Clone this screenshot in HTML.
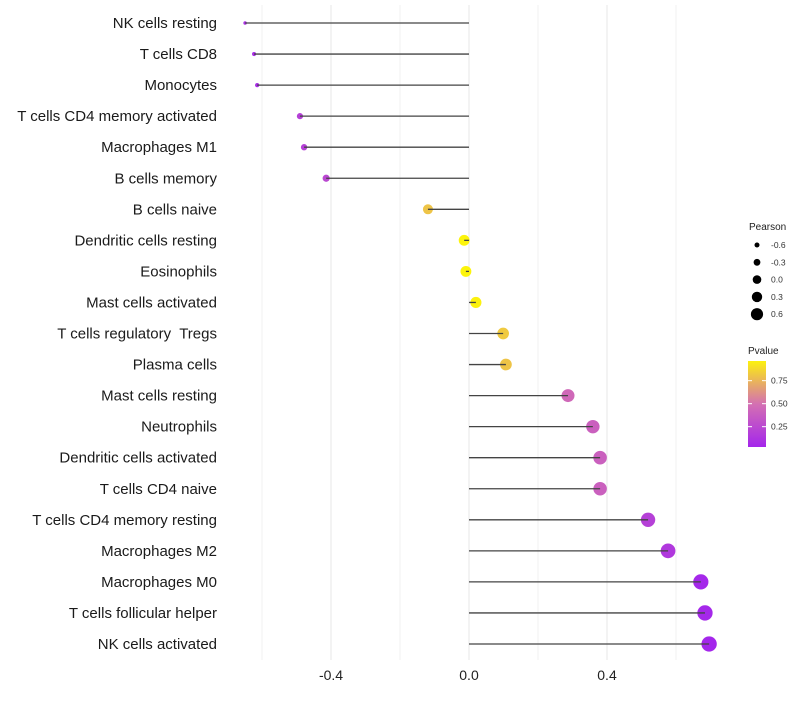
<!DOCTYPE html>
<html><head><meta charset="utf-8"><style>
body{margin:0;background:#fff;font-family:"Liberation Sans",sans-serif}
text{white-space:pre}
</style></head><body>
<svg id="c" width="800" height="700" xmlns="http://www.w3.org/2000/svg"></svg>
<script>
const categories=["NK cells resting","T cells CD8","Monocytes","T cells CD4 memory activated","Macrophages M1","B cells memory","B cells naive","Dendritic cells resting","Eosinophils","Mast cells activated","T cells regulatory  Tregs","Plasma cells","Mast cells resting","Neutrophils","Dendritic cells activated","T cells CD4 naive","T cells CD4 memory resting","Macrophages M2","Macrophages M0","T cells follicular helper","NK cells activated"];
const pearson=[-0.649,-0.623,-0.614,-0.49,-0.478,-0.414,-0.119,-0.014,-0.009,0.02,0.099,0.107,0.287,0.359,0.38,0.38,0.519,0.577,0.672,0.684,0.696];
const pvalues=[0.1,0.08,0.08,0.2,0.2,0.25,0.8,0.97,0.97,0.96,0.82,0.8,0.45,0.4,0.4,0.4,0.2,0.15,0.05,0.05,0.04];
const xTicks=[-0.4,0.0,0.4];
const xMinor=[-0.6,-0.2,0.2,0.6];
const sizeLegend=[-0.6,-0.3,0.0,0.3,0.6];
const colorTicks=[0.75,0.50,0.25];
const NS="http://www.w3.org/2000/svg";
const svg=document.getElementById('c');
const x=v=>469+v*345;
const y=i=>23+i*31.05;
const r=v=>Math.sqrt(Math.max(2,30+41.5*v));
const rl=v=>4.3+3*v;
function col(p){
  const stops=[[0,[160,32,240]],[0.5,[212,112,178]],[1,[255,252,0]]];
  let a=stops[0],b=stops[1];if(p>0.5){a=stops[1];b=stops[2];}
  const t=Math.min(1,Math.max(0,(p-a[0])/(b[0]-a[0])));
  return 'rgb('+a[1].map((c,k)=>Math.round(c+(b[1][k]-c)*t)).join(',')+')';
}
function el(tag,attrs,parent){const e=document.createElementNS(NS,tag);for(const k in attrs)e.setAttribute(k,attrs[k]);(parent||svg).appendChild(e);return e;}
xMinor.forEach(v=>{const l=el('line',{x1:x(v),x2:x(v),y1:5,y2:660,stroke:'#f2f2f2','stroke-width':1});

});
xTicks.forEach(v=>{const l=el('line',{x1:x(v),x2:x(v),y1:5,y2:660,stroke:'#ebebeb','stroke-width':1.2});


const t=el('text',{x:x(v),y:680,'text-anchor':'middle','font-size':14,fill:'#222'});t.textContent=v.toFixed(1);

});
categories.forEach((c,i)=>{
  const t=el('text',{x:217,y:y(i)+5,'text-anchor':'end','font-size':15,fill:'#1a1a1a'});t.textContent=c;
  
  
  const d=el('circle',{cx:x(pearson[i]),cy:y(i),r:r(pearson[i]),fill:col(pvalues[i])});
  
  
  const s=el('line',{x1:x(0),x2:x(pearson[i]),y1:y(i),y2:y(i),stroke:'#444','stroke-width':1.3});
  
  
});
const lt=el('text',{x:749,y:230,'font-size':10,fill:'#222'});lt.textContent='Pearson';


sizeLegend.forEach((v,i)=>{const cy=245+i*17.3;
const c=el('circle',{cx:757,cy:cy,r:rl(v),fill:'#000'});


const t=el('text',{x:771,y:cy+3,'font-size':8.5,fill:'#333'});t.textContent=v.toFixed(1);

});
const pt=el('text',{x:748,y:354,'font-size':10,fill:'#222'});pt.textContent='Pvalue';


const defs=el('defs',{});const g=el('linearGradient',{id:'gr',x1:0,y1:1,x2:0,y2:0},defs);
[[0,0.04],[0.25,0.27],[0.5,0.5],[0.75,0.73],[1,0.96]].forEach(([o,p])=>el('stop',{offset:o,'stop-color':col(p)},g));
const bar=el('rect',{x:748,y:361,width:18,height:86,fill:'url(#gr)'});


const cy=v=>446-(v-0.04)*92;
colorTicks.forEach(v=>{el('line',{x1:748,x2:752,y1:cy(v),y2:cy(v),stroke:'#fff'});el('line',{x1:762,x2:766,y1:cy(v),y2:cy(v),stroke:'#fff'});
const t=el('text',{x:771,y:cy(v)+3,'font-size':8.5,fill:'#333'});t.textContent=v.toFixed(2);

});
</script>
</body></html>
